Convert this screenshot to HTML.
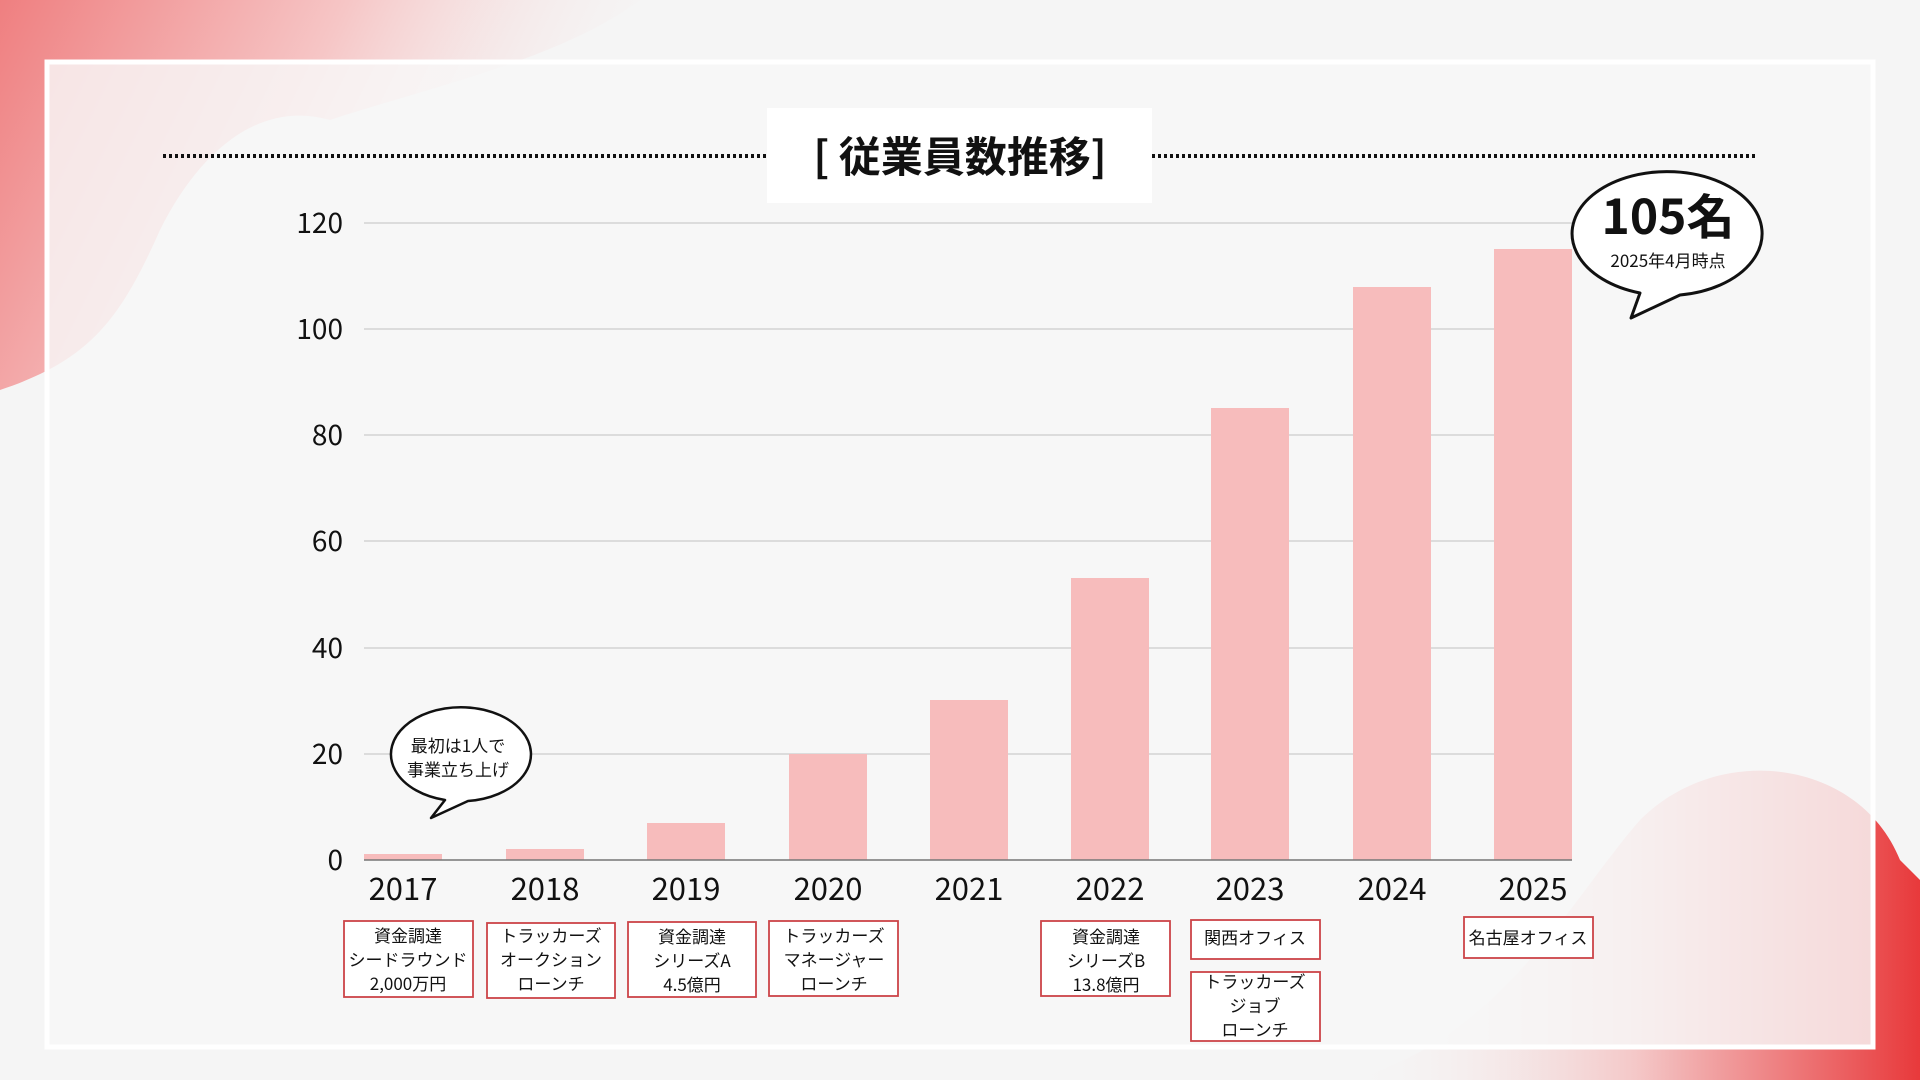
<!DOCTYPE html>
<html><head><meta charset="utf-8"><style>
html,body{margin:0;padding:0;background:#f5f5f5;}
svg{display:block;}
text{font-family:"Noto Sans CJK JP","Liberation Sans",sans-serif;}
</style></head><body>
<svg width="1920" height="1080" viewBox="0 0 1920 1080" xmlns="http://www.w3.org/2000/svg">
<defs>
<linearGradient id="tl" x1="0" y1="0" x2="1" y2="0.3">
<stop offset="0" stop-color="#ef7f80"/><stop offset="0.5" stop-color="#f6c6c6"/><stop offset="1" stop-color="#f5f5f5" stop-opacity="0"/>
</linearGradient>
<linearGradient id="br" x1="0" y1="0" x2="1" y2="0">
<stop offset="0" stop-color="#f5f5f5" stop-opacity="0"/><stop offset="0.5" stop-color="#f4c8c8"/><stop offset="1" stop-color="#e8393b"/>
</linearGradient>
</defs>
<rect width="1920" height="1080" fill="#f5f5f5"/>
<path d="M0,0 L640,0 C560,60 420,90 330,120 C260,100 200,150 160,230 C120,320 90,360 0,390 Z" fill="url(#tl)"/>
<path d="M1350,1080 C1500,1040 1570,900 1640,820 C1720,740 1860,760 1900,860 L1920,880 L1920,1080 Z" fill="url(#br)"/>
<rect x="47" y="62" width="1826" height="985" fill="#f8f8f8" fill-opacity="0.82" stroke="#ffffff" stroke-width="5"/>
<!-- title -->
<line x1="163" y1="156" x2="767" y2="156" stroke="#111" stroke-width="4" stroke-dasharray="3,3"/>
<line x1="1152" y1="156" x2="1757" y2="156" stroke="#111" stroke-width="4" stroke-dasharray="3,3"/>
<rect x="767" y="108" width="385" height="95" fill="#ffffff"/>
<text x="960" y="172" font-size="42" font-weight="bold" text-anchor="middle" fill="#111">[ 従業員数推移]</text>
<!-- grid -->
<g stroke="#d4d4d4" stroke-width="1.5">
<line x1="364" y1="223" x2="1572" y2="223"/><line x1="364" y1="329" x2="1572" y2="329"/>
<line x1="364" y1="435" x2="1572" y2="435"/><line x1="364" y1="541" x2="1572" y2="541"/>
<line x1="364" y1="648" x2="1572" y2="648"/><line x1="364" y1="754" x2="1572" y2="754"/>
</g>
<g font-size="28" fill="#111" text-anchor="end">
<text x="343" y="233">120</text><text x="343" y="339">100</text><text x="343" y="445">80</text>
<text x="343" y="551">60</text><text x="343" y="658">40</text><text x="343" y="764">20</text><text x="343" y="870">0</text>
</g>
<g fill="#f7bcbc">
<rect x="364" y="854" width="78" height="6"/>
<rect x="506" y="849" width="78" height="11"/>
<rect x="647" y="823" width="78" height="37"/>
<rect x="789" y="754" width="78" height="106"/>
<rect x="930" y="700" width="78" height="160"/>
<rect x="1071" y="578" width="78" height="282"/>
<rect x="1211" y="408" width="78" height="452"/>
<rect x="1353" y="287" width="78" height="573"/>
<rect x="1494" y="249" width="78" height="611"/>
</g>
<line x1="364" y1="860" x2="1572" y2="860" stroke="#777" stroke-width="1.5"/>
<g font-size="31" fill="#111" text-anchor="middle">
<text x="403" y="900">2017</text><text x="545" y="900">2018</text><text x="686" y="900">2019</text>
<text x="828" y="900">2020</text><text x="969" y="900">2021</text><text x="1110" y="900">2022</text>
<text x="1250" y="900">2023</text><text x="1392" y="900">2024</text><text x="1533" y="900">2025</text>
</g>
<!-- event boxes -->
<g fill="#fff" stroke="#cc4448" stroke-width="1.8">
<rect x="344" y="921" width="129" height="76"/>
<rect x="487" y="923" width="128" height="75"/>
<rect x="628" y="922" width="128" height="75"/>
<rect x="769" y="921" width="129" height="75"/>
<rect x="1041" y="921" width="129" height="75"/>
<rect x="1191" y="920" width="129" height="39"/>
<rect x="1191" y="972" width="129" height="69"/>
<rect x="1464" y="917" width="129" height="41"/>
</g>
<g font-size="17" fill="#111" text-anchor="middle">
<text x="408" y="942">資金調達</text><text x="408" y="966">シードラウンド</text><text x="408" y="990">2,000万円</text>
<text x="551" y="942">トラッカーズ</text><text x="551" y="966">オークション</text><text x="551" y="990">ローンチ</text>
<text x="692" y="943">資金調達</text><text x="692" y="967">シリーズA</text><text x="692" y="991">4.5億円</text>
<text x="834" y="942">トラッカーズ</text><text x="834" y="966">マネージャー</text><text x="834" y="990">ローンチ</text>
<text x="1106" y="943">資金調達</text><text x="1106" y="967">シリーズB</text><text x="1106" y="991">13.8億円</text>
<text x="1255" y="944">関西オフィス</text>
<text x="1255" y="988">トラッカーズ</text><text x="1255" y="1012">ジョブ</text><text x="1255" y="1036">ローンチ</text>
<text x="1528" y="944">名古屋オフィス</text>
</g>
<!-- big bubble -->
<path d="M1640,293 A95,62 0 1 1 1680,295 L1631,318 Z" fill="#fff" stroke="#111" stroke-width="3" stroke-linejoin="round"/>
<text x="1668" y="234" font-size="48" font-weight="bold" text-anchor="middle" fill="#111">105名</text>
<text x="1668" y="267" font-size="17" text-anchor="middle" fill="#111">2025年4月時点</text>
<!-- small bubble -->
<path d="M445,800 A70,47 0 1 1 468,801 L431,818 Z" fill="#fff" stroke="#111" stroke-width="2.5" stroke-linejoin="round"/>
<text x="458" y="752" font-size="17" text-anchor="middle" fill="#111">最初は1人で</text>
<text x="458" y="776" font-size="17" text-anchor="middle" fill="#111">事業立ち上げ</text>
</svg>
</body></html>
